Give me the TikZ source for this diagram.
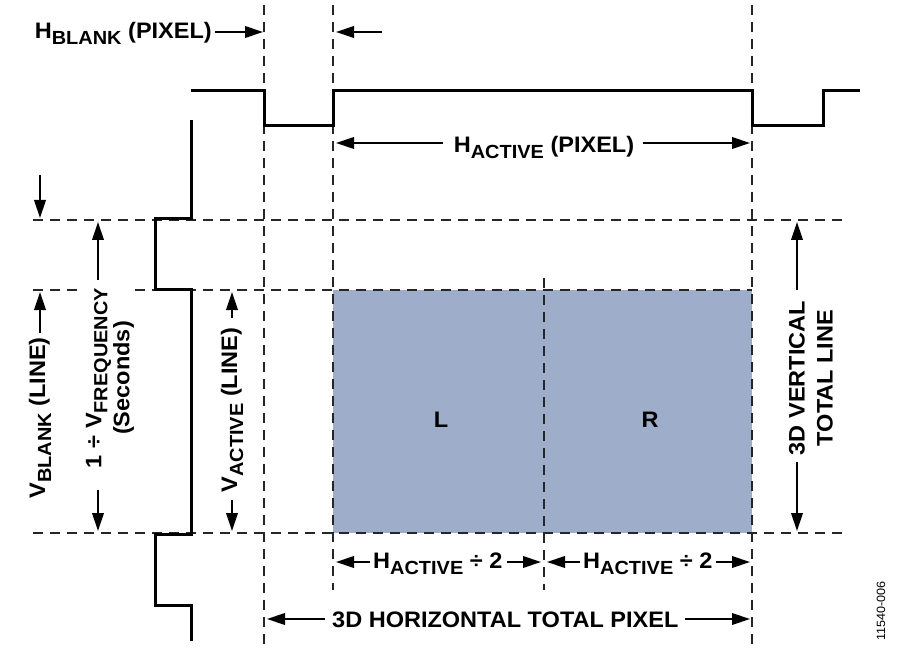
\documentclass[tikz,border=0pt]{standalone}
\usepackage{fontspec}
\setsansfont{Liberation Sans}[FakeStretch=1.05]
\usetikzlibrary{arrows.meta}
\definecolor{boxblue}{HTML}{9EADCA}
\newcommand\lowsub[1]{\raisebox{-6pt}{\fontsize{19}{20}\selectfont #1}}
\begin{document}
\begin{tikzpicture}[x=1pt,y=-1pt,
  font=\sffamily\bfseries\fontsize{22.4}{26}\selectfont,
  wave/.style={line width=3pt},
  guide/.style={line width=2pt,dash pattern=on 10pt off 7pt,black!85},
  dimline/.style={line width=2.2pt,-{Triangle[length=18pt,width=11.5pt]}},
  lbl/.style={inner sep=0pt}]
\useasboundingbox (0,0) rectangle (900,655);
% blue active area
\fill[boxblue] (333,290) rectangle (752,533);
% guide lines
\draw[guide] (264,5) -- (264,645);
\draw[guide] (333,5) -- (333,590);
\draw[guide] (752,5) -- (752,645);
\draw[guide] (544,278) -- (544,590);
\draw[guide] (33,220) -- (845,220);
\draw[guide] (33,290) -- (80,290);
\draw[guide] (135,290) -- (752,290);
\draw[guide] (33,533) -- (845,533);
% waveforms
\draw[wave] (191,91) -- (264,91) -- (264,126) -- (333,126) -- (333,91) -- (752,91) -- (752,126) -- (823,126) -- (823,91) -- (860,91);
\draw[wave] (191,120) -- (191,219) -- (155,219) -- (155,290) -- (191,290) -- (191,534) -- (155,534) -- (155,605) -- (191,605) -- (191,641);
% labels
\node[lbl] (left) at (441,420) {L};
\node[lbl] (right) at (650,420) {R};
\node[lbl,anchor=base east] (hblank) at (212,39) {H\lowsub{BLANK} (PIXEL)};
\node[lbl,anchor=base] (hactive) at (544,153) {H\lowsub{ACTIVE} (PIXEL)};
\node[lbl,anchor=base west] (half1) at (373,568) {H\lowsub{ACTIVE} ÷ 2};
\node[lbl,anchor=base west] (half2) at (583,568) {H\lowsub{ACTIVE} ÷ 2};
\node[lbl,anchor=base west] (htotal) at (332,627) {3D HORIZONTAL TOTAL PIXEL};
\node[lbl,rotate=90] (vblank) at (40,418) {V\lowsub{BLANK} (LINE)};
\node[lbl,rotate=90,align=center] (vfreq) at (110,378) {1 ÷ V\lowsub{FREQUENCY}\\[2pt](Seconds)};
\node[lbl,rotate=90] (vactive) at (232,410) {V\lowsub{ACTIVE} (LINE)};
\node[lbl,rotate=90,align=center] (vtotal) at (811,378) {3D VERTICAL\\[2pt]TOTAL LINE};
\node[lbl,rotate=90,font=\sffamily\fontsize{12}{14}\selectfont] (fig) at (881,611) {11540-006};
% dimension arrows
\coordinate (hb1) at (215,32); \coordinate (hb1t) at (263,32);
\coordinate (hb2) at (382,32); \coordinate (hb2t) at (336,32);
\draw[dimline] (hb1) -- (hb1t);
\draw[dimline] (hb2) -- (hb2t);
\draw[dimline] (443,143) -- (336,143);
\draw[dimline] (643,143) -- (750,143);
\draw[dimline] (370,562) -- (336,562);
\draw[dimline] (507,562) -- (541,562);
\draw[dimline] (580,562) -- (547,562);
\draw[dimline] (716,562) -- (750,562);
\draw[dimline] (325,619) -- (267,619);
\draw[dimline] (685,619) -- (750,619);
\draw[dimline] (40,175) -- (40,218);
\draw[dimline] (40,333) -- (40,292);
\draw[dimline] (98,280) -- (98,222);
\draw[dimline] (98,490) -- (98,531);
\draw[dimline] (232,318) -- (232,292);
\draw[dimline] (232,500) -- (232,531);
\draw[dimline] (797,290) -- (797,222);
\draw[dimline] (797,462) -- (797,531);
\end{tikzpicture}
\end{document}
